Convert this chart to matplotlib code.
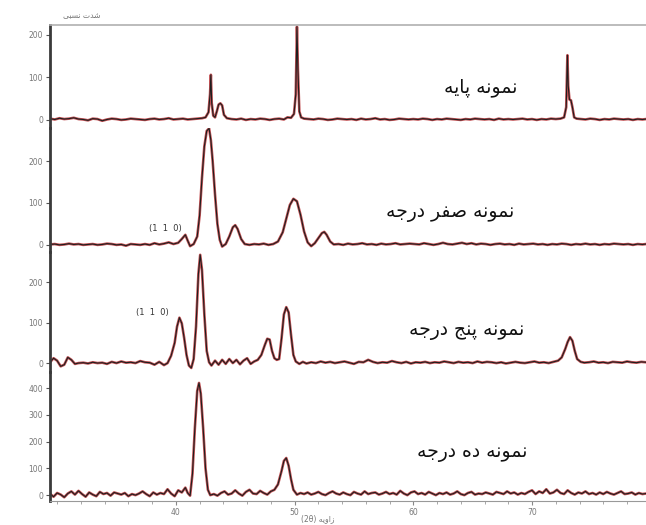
import matplotlib
matplotlib.use("Agg")
import matplotlib.pyplot as plt
from matplotlib.ticker import MultipleLocator

plt.rcParams["font.family"] = ["DejaVu Sans"]

# sample names (Persian, written in presentation forms, visual order)
names = [
    "\uFEEA\uFBFE\uFE8E\uFB58 \uFEEA\uFEE7\uFEEE\uFEE4\uFEE7",                               # نمونه پایه
    "\uFEEA\uFE9F\uFEAD\uFEA9 \uFEAE\uFED4\uFEBB \uFEEA\uFEE7\uFEEE\uFEE4\uFEE7",            # نمونه صفر درجه
    "\uFEEA\uFE9F\uFEAD\uFEA9 \uFE9E\uFEE8\uFB58 \uFEEA\uFEE7\uFEEE\uFEE4\uFEE7",            # نمونه پنج درجه
    "\uFEEA\uFE9F\uFEAD\uFEA9 \uFEE9\uFEA9 \uFEEA\uFEE7\uFEEE\uFEE4\uFEE7",                  # نمونه ده درجه
]
y_title = "\uFBFD\uFE92\uFEB4\uFEE7 \uFE95\uFEAA\uFEB7"      # شدت نسبی
x_title = "(2\u03b8) \uFEEA\uFBFE\uFEED\uFE8D\uFEAF"           # زاویه (2θ)
plane_label = "(1  1  0)"

# base sample
p1_two_theta = [
    29.4, 29.8, 30.2, 30.6, 31.0, 31.4, 31.8, 32.2, 32.6, 33.0,
    33.4, 33.8, 34.2, 34.6, 35.0, 35.4, 35.8, 36.2, 36.6, 37.0,
    37.4, 37.8, 38.2, 38.6, 39.0, 39.4, 39.8, 40.2, 40.6, 41.0,
    41.4, 41.8, 42.2, 42.5, 42.75, 42.88, 42.95, 43.02, 43.15, 43.3,
    43.45, 43.6, 43.75, 43.9, 44.05, 44.3, 44.7, 45.1, 45.5, 45.9,
    46.3, 46.7, 47.1, 47.5, 47.9, 48.3, 48.7, 49.1, 49.4, 49.7,
    49.95, 50.1, 50.2, 50.28, 50.4, 50.55, 50.8, 51.2, 51.6, 52.0,
    52.4, 52.8, 53.2, 53.6, 54.0, 54.4, 54.8, 55.2, 55.6, 56.0,
    56.4, 56.8, 57.2, 57.6, 58.0, 58.4, 58.8, 59.2, 59.6, 60.0,
    60.4, 60.8, 61.2, 61.6, 62.0, 62.4, 62.8, 63.2, 63.6, 64.0,
    64.4, 64.8, 65.2, 65.6, 66.0, 66.4, 66.8, 67.2, 67.6, 68.0,
    68.4, 68.8, 69.2, 69.6, 70.0, 70.4, 70.8, 71.2, 71.6, 72.0,
    72.4, 72.7, 72.88, 72.98, 73.05, 73.15, 73.28, 73.4, 73.55, 73.75,
    74.1, 74.5, 74.9, 75.3, 75.7, 76.1, 76.5, 76.9, 77.3, 77.7,
    78.1, 78.5, 78.9, 79.3, 79.6]
p1_counts = [
    3, 1, 4, 2, 3, 5, 2, 1, -1, 3,
    2, -2, 1, 3, 2, 0, 1, 3, 2, 1,
    0, 2, 3, 1, 2, 4, 1, 2, 3, 1,
    2, 3, 4, 6, 18, 60, 106, 40, 10, 6,
    20, 36, 39, 34, 12, 4, 2, 1, 3, 0,
    2, 1, 3, 2, 0, 2, 3, 1, 6, 5,
    14, 60, 219, 120, 20, 6, 3, 2, 1, 3,
    2, 0, 1, 3, 2, 1, 2, 0, 3, 1,
    2, 4, 1, 2, 0, 1, 3, 2, 1, 2,
    1, 3, 2, 0, 2, 1, 3, 2, 1, 0,
    2, 1, 3, 2, 1, 2, 0, 3, 1, 2,
    1, 2, 3, 1, 2, 0, 2, 1, 3, 2,
    3, 6, 30, 152, 80, 48, 46, 30, 6, 3,
    2, 1, 3, 2, 0, 2, 1, 3, 2, 1,
    2, 0, 2, 1, 2]

# zero degree sample
p2_two_theta = [
    29.4, 29.8, 30.2, 30.6, 31.0, 31.4, 31.8, 32.2, 32.6, 33.0,
    33.4, 33.8, 34.2, 34.6, 35.0, 35.4, 35.8, 36.2, 36.6, 37.0,
    37.4, 37.8, 38.2, 38.6, 39.0, 39.4, 39.8, 40.2, 40.5, 40.8,
    41.0, 41.2, 41.5, 41.8, 42.0, 42.2, 42.4, 42.6, 42.8, 42.95,
    43.1, 43.3, 43.5, 43.7, 43.9, 44.2, 44.5, 44.8, 45.0, 45.2,
    45.5, 45.8, 46.2, 46.6, 47.0, 47.4, 47.8, 48.2, 48.6, 49.0,
    49.3, 49.6, 49.9, 50.2, 50.5, 50.8, 51.1, 51.4, 51.7, 52.0,
    52.3, 52.5, 52.7, 53.0, 53.3, 53.7, 54.1, 54.5, 54.9, 55.3,
    55.7, 56.1, 56.5, 56.9, 57.3, 57.7, 58.1, 58.5, 58.9, 59.3,
    59.7, 60.1, 60.5, 60.9, 61.3, 61.7, 62.1, 62.5, 62.9, 63.3,
    63.7, 64.1, 64.5, 64.9, 65.3, 65.7, 66.1, 66.5, 66.9, 67.3,
    67.7, 68.1, 68.5, 68.9, 69.3, 69.7, 70.1, 70.5, 70.9, 71.3,
    71.7, 72.1, 72.5, 72.9, 73.3, 73.7, 74.1, 74.5, 74.9, 75.3,
    75.7, 76.1, 76.5, 76.9, 77.3, 77.7, 78.1, 78.5, 78.9, 79.3,
    79.6]
p2_counts = [
    1, 2, 0, 1, 3, 1, 2, 0, 1, 2,
    0, 1, 3, 2, 0, 1, -2, 2, 1, 0,
    2, 0, 4, 1, 3, 6, 2, 5, 14, 24,
    10, -3, 2, 20, 70, 160, 235, 272, 278, 250,
    200, 120, 50, 12, -4, 2, 20, 42, 47, 38,
    14, 2, 0, 2, 1, 3, 0, 2, 8, 30,
    62, 95, 110, 104, 72, 32, 6, -3, 4, 16,
    28, 31, 24, 8, 1, 2, 0, 3, 1, 2,
    4, 1, 2, 0, 3, 1, 2, 4, 1, 2,
    3, 2, 1, 4, 2, 0, 2, 5, 2, 1,
    3, 5, 2, 4, 1, 3, 2, 0, 2, 3,
    1, 2, 0, 3, 1, 2, 3, 1, 2, 0,
    2, 1, 3, 2, 0, 2, 1, 3, 1, 2,
    0, 2, 1, 3, 2, 1, 2, 0, 2, 1,
    2]

# five degree sample
p3_two_theta = [
    29.4, 29.7, 30.0, 30.3, 30.6, 30.9, 31.2, 31.5, 31.8, 32.2,
    32.6, 33.0, 33.4, 33.8, 34.2, 34.6, 35.0, 35.4, 35.8, 36.2,
    36.6, 37.0, 37.4, 37.8, 38.2, 38.6, 39.0, 39.3, 39.6, 39.9,
    40.1, 40.3, 40.5, 40.7, 40.9, 41.1, 41.3, 41.5, 41.7, 41.9,
    42.05, 42.2, 42.4, 42.6, 42.8, 43.0, 43.3, 43.6, 43.9, 44.2,
    44.5, 44.8, 45.1, 45.4, 45.7, 46.0, 46.3, 46.6, 46.9, 47.2,
    47.5, 47.7, 47.9, 48.1, 48.3, 48.5, 48.7, 48.9, 49.1, 49.3,
    49.5, 49.7, 49.9, 50.1, 50.4, 50.7, 51.0, 51.4, 51.8, 52.2,
    52.6, 53.0, 53.4, 53.8, 54.2, 54.6, 55.0, 55.4, 55.8, 56.2,
    56.6, 57.0, 57.4, 57.8, 58.2, 58.6, 59.0, 59.4, 59.8, 60.2,
    60.6, 61.0, 61.4, 61.8, 62.2, 62.6, 63.0, 63.4, 63.8, 64.2,
    64.6, 65.0, 65.4, 65.8, 66.2, 66.6, 67.0, 67.4, 67.8, 68.2,
    68.6, 69.0, 69.4, 69.8, 70.2, 70.6, 71.0, 71.4, 71.8, 72.2,
    72.5, 72.8, 73.0, 73.2, 73.4, 73.6, 73.8, 74.1, 74.4, 74.8,
    75.2, 75.6, 76.0, 76.4, 76.8, 77.2, 77.6, 78.0, 78.4, 78.8,
    79.2, 79.6]
p3_counts = [
    2, 12, 6, -8, -4, 14, 8, -2, 0, 1,
    -1, 2, 0, 1, -2, 3, 0, 4, 1, 2,
    0, 5, 2, 1, -4, 3, -5, 0, 18, 50,
    90, 112, 98, 62, 20, -6, -12, 10, 90, 220,
    267, 230, 120, 30, 2, -6, 6, -4, 8, -2,
    10, 0, 8, -3, 6, 12, -2, 4, 8, 20,
    45, 60, 58, 30, 12, 8, 10, 60, 120, 138,
    125, 70, 20, 4, -2, 3, -1, 2, 0, 4,
    1, 3, 0, 2, 4, 1, -2, 3, 2, 8,
    3, 0, 2, 1, 5, 2, 0, 3, -1, 2,
    1, 3, 0, 2, 1, 4, 2, 0, 3, 1,
    2, 0, 4, 1, 3, 2, 0, 2, -1, 1,
    3, 1, 0, 2, 4, 1, 2, 0, 3, 6,
    14, 35, 52, 64, 55, 30, 10, 3, 1, 2,
    4, 1, 2, 0, 3, 2, 1, 4, 2, 1,
    3, 2]

# ten degree sample
p4_two_theta = [
    29.4, 29.7, 30.0, 30.3, 30.6, 30.9, 31.2, 31.5, 31.8, 32.1,
    32.4, 32.7, 33.0, 33.3, 33.6, 33.9, 34.2, 34.5, 34.8, 35.1,
    35.4, 35.7, 36.0, 36.3, 36.6, 36.9, 37.2, 37.5, 37.8, 38.1,
    38.4, 38.7, 39.0, 39.3, 39.6, 39.9, 40.2, 40.5, 40.8, 41.0,
    41.2, 41.4, 41.6, 41.8, 41.95, 42.1, 42.3, 42.5, 42.7, 42.9,
    43.2, 43.5, 43.8, 44.1, 44.4, 44.7, 45.0, 45.3, 45.6, 45.9,
    46.2, 46.5, 46.8, 47.1, 47.4, 47.7, 48.0, 48.3, 48.6, 48.9,
    49.1, 49.3, 49.5, 49.7, 49.9, 50.2, 50.5, 50.8, 51.1, 51.4,
    51.7, 52.0, 52.3, 52.6, 52.9, 53.2, 53.5, 53.8, 54.1, 54.4,
    54.7, 55.0, 55.3, 55.6, 55.9, 56.2, 56.5, 56.8, 57.1, 57.4,
    57.7, 58.0, 58.3, 58.6, 58.9, 59.2, 59.5, 59.8, 60.1, 60.4,
    60.7, 61.0, 61.3, 61.6, 61.9, 62.2, 62.5, 62.8, 63.1, 63.4,
    63.7, 64.0, 64.3, 64.6, 64.9, 65.2, 65.5, 65.8, 66.1, 66.4,
    66.7, 67.0, 67.3, 67.6, 67.9, 68.2, 68.5, 68.8, 69.1, 69.4,
    69.7, 70.0, 70.3, 70.6, 70.9, 71.2, 71.5, 71.8, 72.1, 72.4,
    72.7, 73.0, 73.3, 73.6, 73.9, 74.2, 74.5, 74.8, 75.1, 75.4,
    75.7, 76.0, 76.3, 76.6, 76.9, 77.2, 77.5, 77.8, 78.1, 78.4,
    78.7, 79.0, 79.3, 79.6]
p4_counts = [
    5, -6, 8, 2, -8, 6, 14, 2, 16, 4,
    -6, 10, 2, -4, 12, 4, 8, -2, 10, 6,
    2, 8, -4, 4, 0, 6, 14, 4, -4, 10,
    2, 8, 4, 22, 6, -4, 18, 10, 28, 8,
    -2, 80, 250, 390, 420, 380, 250, 100, 20, 0,
    4, -2, 8, 14, 2, 6, 18, 6, -2, 12,
    20, 6, 4, 16, 8, 2, 14, 20, 40, 90,
    128, 139, 110, 60, 20, 2, 8, 4, 10, 2,
    6, 12, 4, 0, 8, 14, 6, 2, 10, 4,
    0, 12, 6, 2, 14, 4, 8, 10, 2, 6,
    12, 4, 8, 2, 16, 6, 0, 10, 14, 4,
    8, 2, 12, 6, 0, 8, 4, 10, 2, 6,
    14, 4, 0, 8, 12, 2, 6, 4, 10, 6,
    2, 12, 8, 4, 14, 6, 10, 2, 8, 4,
    12, 18, 4, 14, 8, 22, 6, 10, 20, 8,
    4, 18, 8, 2, 10, 6, 14, 4, 8, 2,
    10, 4, 12, 6, 2, 8, 14, 4, 6, 10,
    2, 8, 4, 6]

y_ticks = [[0, 100, 200], [0, 100, 200], [0, 100, 200], [0, 100, 200, 300, 400]]
x_ticks = [40, 50, 60, 70]

W, H = 646, 525
fig = plt.figure(figsize=(W / 100, H / 100), dpi=100)

# panel rectangles in pixels: (top, bottom)
rows = [(25, 128), (128, 252), (252, 372), (372, 501)]
ylims = [(-19, 223), (-17, 279), (-22, 274), (-22, 461)]
series = [(p1_two_theta, p1_counts), (p2_two_theta, p2_counts),
          (p3_two_theta, p3_counts), (p4_two_theta, p4_counts)]

axes = []
for i, (top, bot) in enumerate(rows):
    ax = fig.add_axes([50 / W, (H - bot) / H, (W - 50) / W, (bot - top) / H])
    x, y = series[i]
    ax.plot(x, y, color="#b3262a", lw=1.9, alpha=0.8, solid_joinstyle="round")
    ax.plot(x, y, color="#1e1e1e", lw=0.8)
    ax.set_xlim(29.4, 79.6)
    ax.set_ylim(*ylims[i])
    ax.set_yticks(y_ticks[i])
    ax.tick_params(axis="y", direction="out", length=3, width=0.8, color="#555",
                   labelsize=5.5, labelcolor="#777", pad=2)
    for s in ["right", "top", "bottom"]:
        ax.spines[s].set_visible(False)
    ax.spines["left"].set_linewidth(2.0)
    ax.spines["left"].set_color("#3a3a3a")
    ax.set_facecolor("none")
    if i < 3:
        ax.set_xticks([])
    axes.append(ax)

axes[0].spines["top"].set_visible(True)
axes[0].spines["top"].set_color("#b0b0b0")
axes[0].spines["top"].set_linewidth(1.2)

ax4 = axes[3]
ax4.spines["bottom"].set_visible(True)
ax4.spines["bottom"].set_color("#999")
ax4.spines["bottom"].set_linewidth(0.8)
ax4.set_xticks(x_ticks)
ax4.xaxis.set_minor_locator(MultipleLocator(2))
ax4.tick_params(axis="x", which="major", length=3, color="#888", labelsize=5.5,
                labelcolor="#777", pad=2)
ax4.tick_params(axis="x", which="minor", length=2, color="#999")

# sample labels
label_pos = [(481, 88), (450, 212), (467, 330), (472, 452)]
for name, (px, py) in zip(names, label_pos):
    fig.text(px / W, 1 - py / H, name, ha="center", va="center", fontsize=13.5, color="#111")

fig.text(165 / W, 1 - 228 / H, plane_label, ha="center", va="center", fontsize=6, color="#333")
fig.text(152 / W, 1 - 313 / H, plane_label, ha="center", va="center", fontsize=6, color="#333")
fig.text(82 / W, 1 - 16 / H, y_title, ha="center", va="center", fontsize=5.5, color="#777")
fig.text(318 / W, 1 - 519 / H, x_title, ha="center", va="center", fontsize=5.5, color="#777")

fig.savefig("out.png", dpi=100)
